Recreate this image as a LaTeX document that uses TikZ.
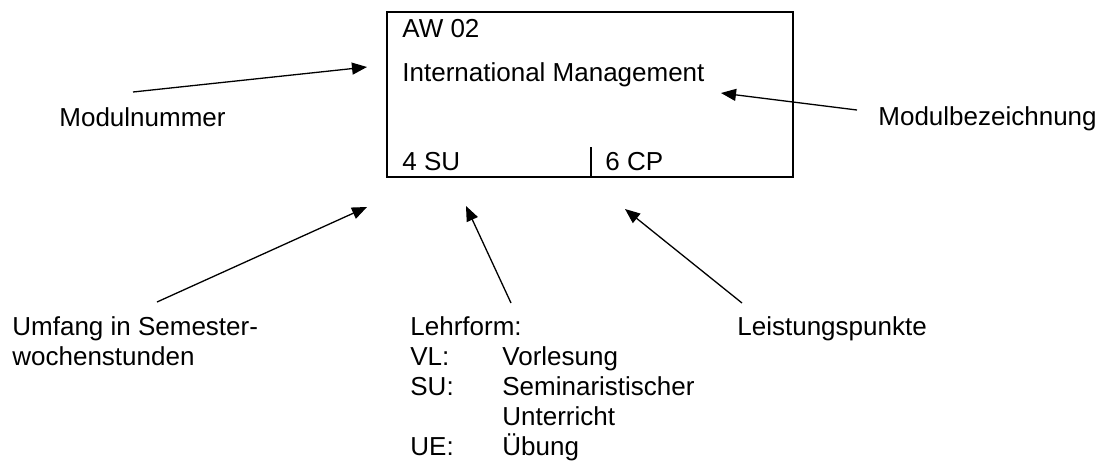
\documentclass[tikz,border=0pt]{standalone}
\usepackage{fontspec}
\setmainfont{Liberation Sans}
\usetikzlibrary{arrows.meta}
\begin{document}
\begin{tikzpicture}[x=0.5pt,y=-0.5pt,
  txt/.style={anchor=base west, inner sep=0pt, font=\fontsize{13}{15}\selectfont},
  pfeil/.style={-{Triangle[length=7.5pt,width=6pt]}, line width=0.65pt},
  rahmen/.style={draw, line width=1pt, inner sep=0pt}]
\useasboundingbox (0,0) rectangle (1097,461);
\node [rahmen, minimum width=203pt, minimum height=82.5pt] (modul) at (590,94.5) {};
\coordinate (trenn) at (591,147);
\draw [line width=1pt] (trenn) -- (trenn |- modul.south);
\node [txt] (kennung) at (402,37) {AW 02};
\node [txt] (titel) at (402,81) {International Management};
\node [txt] (sws) at (402,170) {4 SU};
\node [txt] (cp) at (605,170) {6 CP};
\node [txt] (lnummer) at (59,126) {Modulnummer};
\node [txt] (lbez) at (878,125) {Modulbezeichnung};
\node [txt] (lumfang) at (12,335) {\begin{tabular}[t]{@{}l@{}}Umfang in Semester-\\wochenstunden\end{tabular}};
\node [txt] (llehr) at (410,335) {\begin{tabular}[t]{@{}p{46pt}@{}l@{}}
  \multicolumn{2}{@{}l@{}}{Lehrform:}\\
  VL: & Vorlesung\\
  SU: & Seminaristischer\\
      & Unterricht\\
  UE: & Übung
\end{tabular}};
\node [txt] (lpunkte) at (737,335) {Leistungspunkte};
\coordinate (nummer-von) at (133,92);
\coordinate (nummer-an) at (367,67);
\coordinate (bez-von) at (857,110);
\coordinate (bez-an) at (721,93);
\coordinate (umfang-von) at (157,302);
\coordinate (umfang-an) at (367,207);
\coordinate (lehr-von) at (511,303);
\coordinate (lehr-an) at (466,206);
\coordinate (punkte-von) at (742,303);
\coordinate (punkte-an) at (625,209);
\draw [pfeil] (nummer-von) -- (nummer-an);
\draw [pfeil] (bez-von) -- (bez-an);
\draw [pfeil] (umfang-von) -- (umfang-an);
\draw [pfeil] (lehr-von) -- (lehr-an);
\draw [pfeil] (punkte-von) -- (punkte-an);
\end{tikzpicture}
\end{document}
